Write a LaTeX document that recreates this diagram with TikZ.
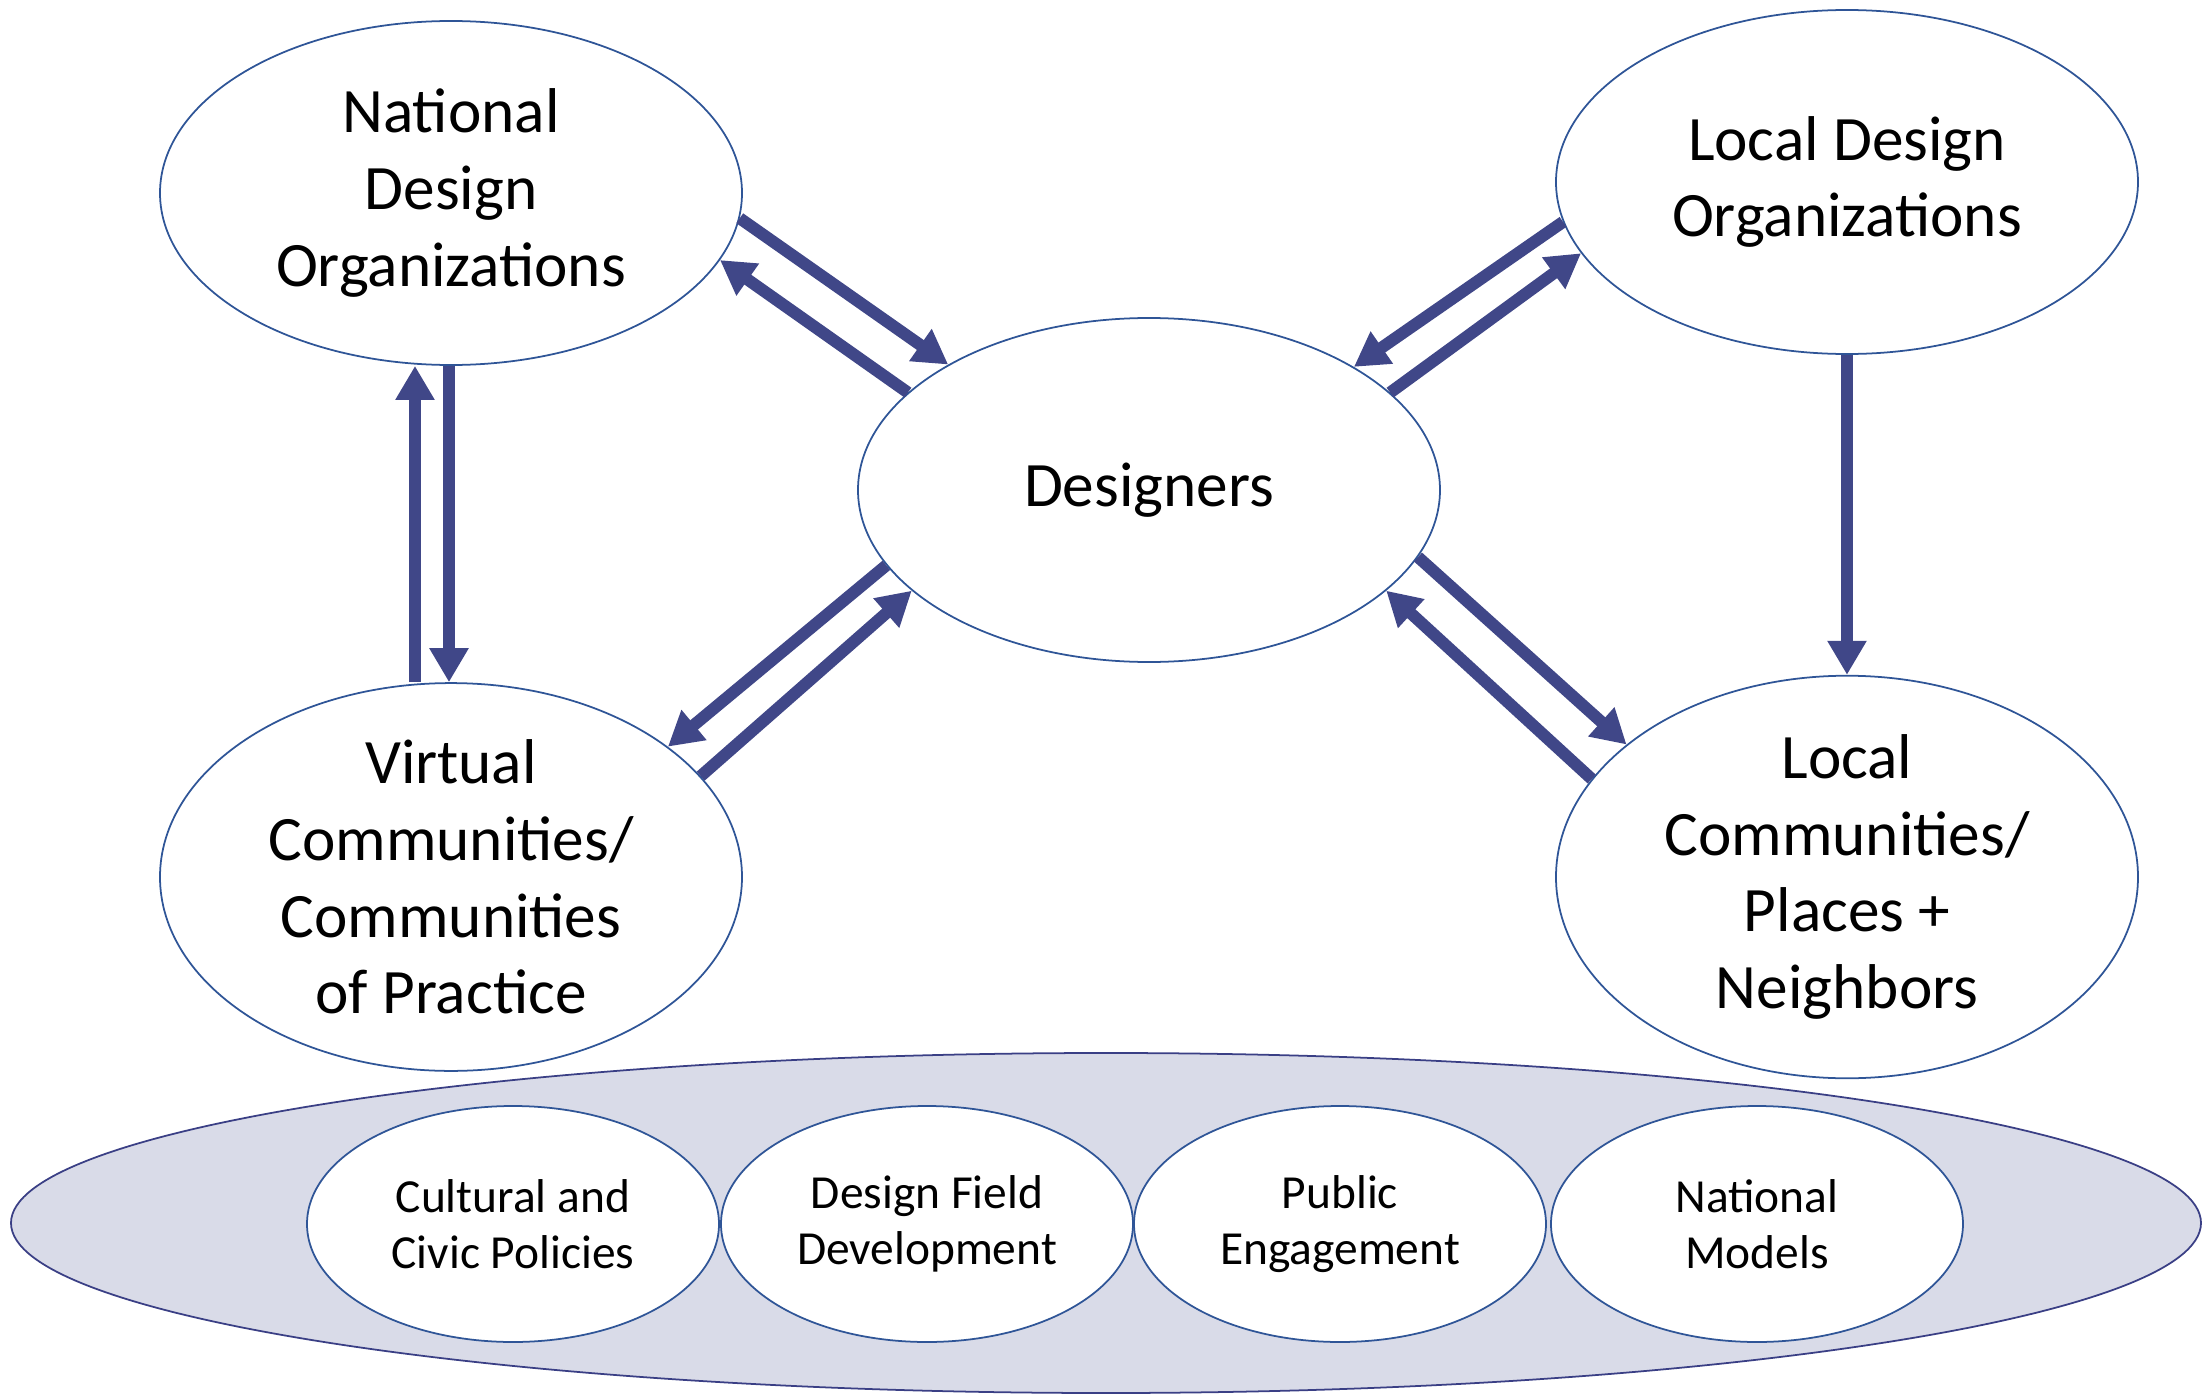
\documentclass[tikz,border=0pt]{standalone}
\usepackage{fontspec}
\setmainfont{Carlito}
\usetikzlibrary{shapes.geometric,arrows.meta}
\definecolor{arrowblue}{HTML}{404788}
\definecolor{rimblue}{HTML}{2F5597}
\definecolor{bandfill}{HTML}{D9DBE8}
\definecolor{banddraw}{HTML}{3A3F85}

\begin{document}
\begin{tikzpicture}
   \tikzstyle{actor} = [ellipse, draw=rimblue, line width=0.5pt, fill=white, minimum width=5.82cm, minimum height=3.44cm, inner sep=0pt, align=center, font=\fontsize{18}{21.8}\selectfont]
   \tikzstyle{policy} = [ellipse, draw=rimblue, line width=0.5pt, fill=white, minimum width=4.12cm, minimum height=2.36cm, inner sep=0pt, align=center, font=\fontsize{13.5}{16}\selectfont]
   \tikzstyle{line} = [draw=arrowblue, line width=0.12cm, -{Triangle[width=0.37cm,length=0.34cm]}]
   \useasboundingbox (0,0) rectangle (22.07,-13.97);

   \node [ellipse, draw=banddraw, fill=bandfill, line width=0.5pt, minimum width=21.9cm, minimum height=3.4cm] (band) at (11.06,-12.23) {};
   \node [policy] (cult) at (5.13,-12.24) {Cultural and\\Civic Policies};
   \node [policy] (field) at (9.27,-12.24) {Design Field\\Development};
   \node [policy] (pub) at (13.40,-12.24) {Public\\Engagement};
   \node [policy] (model) at (17.57,-12.24) {National\\Models};

   \node [actor] (nat) at (4.51,-1.93) {National\\Design\\Organizations};
   \node [actor] (loc) at (18.47,-1.82) {Local Design\\Organizations};
   \node [actor] (des) at (11.49,-4.90) {Designers};
   \node [actor] (vir) at (4.51,-8.77) {Virtual\\Communities/\\Communities\\of Practice};
   \node [actor] (lcom) at (18.47,-8.77) {Local\\Communities/\\Places +\\Neighbors};

   \path (nat.-5) edge [line] (des.148);
   \path (des.158) edge [line] (nat.-14);

   \path (loc.-172) edge [line] (des.31);
   \path (des.22) edge [line] (loc.-165);

   \path ([xshift=-0.36cm]vir.north) edge [line] ([xshift=-0.36cm]nat.south);
   \path ([xshift=-0.02cm]nat.south) edge [line] ([xshift=-0.02cm]vir.north);

   \path (des.-164) edge [line] (vir.31);
   \path (vir.22) edge [line] (des.-157);

   \path (des.-14) edge [line] (lcom.149);
   \path (lcom.159) edge [line] (des.-23);

   \path (loc.south) edge [line] (lcom.north);

 \end{tikzpicture}
\end{document}
